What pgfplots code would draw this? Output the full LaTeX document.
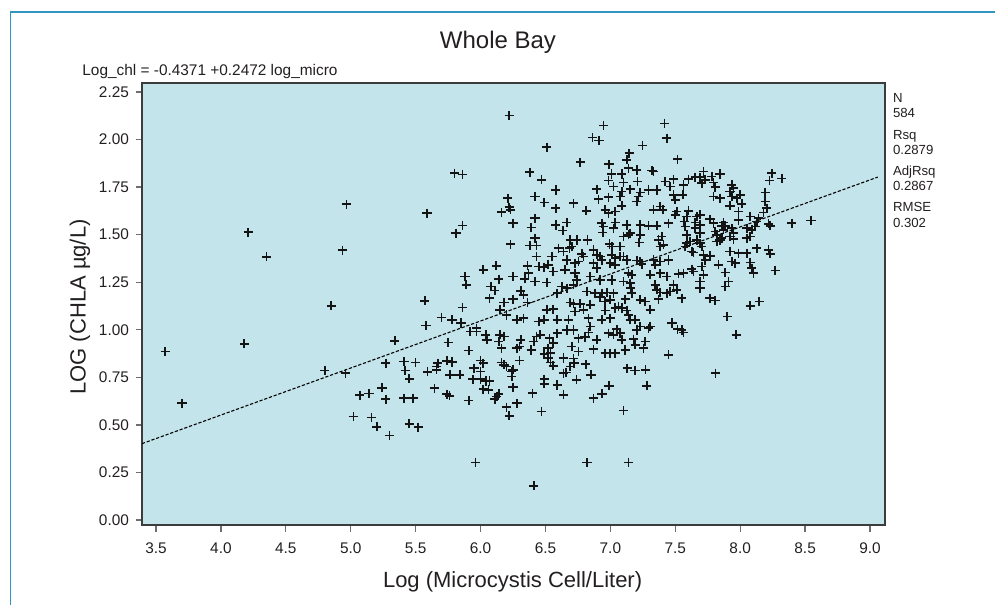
\documentclass[border=0pt]{standalone}
\usepackage{pgfplots}
\pgfplotsset{compat=1.18}
\usepackage{fontspec}
\setmainfont{Liberation Sans}
\definecolor{bgblue}{RGB}{196,228,236}
\definecolor{framecol}{RGB}{46,150,192}
\definecolor{axisgray}{RGB}{60,60,60}
\definecolor{tickgray}{RGB}{110,110,110}
\definecolor{txt}{RGB}{35,31,32}
\definecolor{markcol}{RGB}{20,20,20}
\pgfplotstableread{
x y
3.57 0.885
3.70 0.614
4.18 0.926
4.21 1.513
4.35 1.383
4.80 0.786
4.85 1.126
4.935 1.418
4.966 1.660
4.96 0.772
5.02 0.544
5.07 0.656
5.14 0.665
5.16 0.539
5.20 0.490
5.24 0.695
5.27 0.824
5.27 0.635
5.30 0.444
5.34 0.942
5.41 0.833
5.42 0.786
5.41 0.640
5.45 0.742
5.45 0.506
5.48 0.640
5.50 0.828
5.52 0.488
5.57 1.152
5.58 1.022
5.588 1.613
5.59 0.779
6.22 2.126
6.51 1.959
5.80 1.823
5.86 1.817
6.38 1.828
6.47 1.788
5.81 1.507
5.86 1.548
6.21 1.691
6.16 1.618
6.23 1.630
6.22 1.644
6.25 1.560
6.42 1.700
6.49 1.668
6.58 1.735
6.58 1.639
6.42 1.586
6.39 1.537
6.58 1.551
6.23 1.450
6.38 1.443
6.43 1.443
6.42 1.481
6.43 1.385
6.12 1.336
6.02 1.315
5.88 1.280
5.89 1.236
6.08 1.227
6.11 1.206
6.07 1.166
6.14 1.266
6.25 1.280
6.34 1.268
6.36 1.336
6.37 1.297
6.45 1.332
6.49 1.329
6.42 1.254
6.51 1.248
6.31 1.205
6.33 1.184
6.36 1.143
6.18 1.143
6.25 1.161
6.15 1.105
6.20 1.078
6.28 1.052
6.33 1.061
5.97 1.008
5.86 1.117
5.70 1.064
5.78 1.052
5.85 1.035
6.56 1.306
6.59 1.192
6.51 1.105
6.56 1.108
6.45 1.043
6.49 1.052
6.59 1.052
6.60 1.429
6.55 1.385
6.52 1.341
5.96 0.302
6.41 0.180
6.47 0.570
6.22 0.548
6.20 0.593
6.28 0.614
5.91 0.628
6.125 0.649
6.11 0.635
6.14 0.663
5.74 0.661
5.76 0.653
5.645 0.693
6.25 0.698
6.40 0.667
6.02 0.688
6.06 0.684
6.07 0.731
6.04 0.731
6.00 0.740
5.94 0.740
6.49 0.740
6.49 0.716
6.59 0.710
5.84 0.763
5.765 0.763
5.66 0.789
5.66 0.807
5.67 0.824
5.74 0.837
5.78 0.830
5.95 0.798
6.00 0.780
6.00 0.838
6.02 0.824
6.18 0.816
6.20 0.807
6.16 0.828
6.24 0.780
6.25 0.789
6.24 0.754
6.30 0.838
6.49 0.872
6.52 0.850
6.54 0.828
6.56 0.810
5.75 0.933
5.91 0.891
5.92 0.991
5.97 0.991
6.04 0.973
6.05 0.947
6.15 0.973
6.14 0.938
6.18 0.964
6.28 0.903
6.30 0.912
6.31 0.947
6.39 0.894
6.41 0.938
6.43 0.964
6.52 0.903
6.54 0.877
6.46 0.973
6.53 0.956
6.56 0.929
6.59 0.982
6.16 0.903
6.82 0.302
7.14 0.302
7.10 0.576
6.64 0.658
6.87 0.640
6.935 0.663
6.99 0.705
7.28 0.705
6.74 0.737
6.85 0.763
6.64 0.772
6.66 0.775
6.72 0.824
6.69 0.807
6.81 0.819
7.13 0.798
7.19 0.786
7.27 0.790
7.81 0.772
6.947 2.073
7.417 2.085
6.862 2.010
6.913 1.994
7.435 2.007
7.247 1.968
7.145 1.928
7.127 1.893
7.140 1.849
6.767 1.881
6.990 1.870
7.517 1.896
7.010 1.819
7.088 1.819
7.204 1.840
7.320 1.837
7.332 1.832
6.985 1.784
7.025 1.753
7.101 1.774
7.209 1.779
6.895 1.739
6.908 1.686
6.985 1.697
7.088 1.726
7.152 1.739
7.230 1.721
7.294 1.735
7.358 1.735
7.075 1.700
7.217 1.700
7.204 1.674
7.422 1.779
7.487 1.791
7.461 1.753
7.487 1.709
7.499 1.683
6.715 1.665
6.813 1.625
6.960 1.630
6.985 1.613
7.037 1.621
7.088 1.651
7.332 1.630
7.384 1.648
7.404 1.630
7.499 1.604
7.512 1.621
6.664 1.564
6.633 1.521
6.934 1.560
6.947 1.543
6.942 1.511
7.037 1.564
7.127 1.551
7.024 1.534
7.230 1.551
7.294 1.546
7.358 1.546
7.448 1.560
7.101 1.490
7.140 1.499
7.152 1.508
7.230 1.499
7.222 1.458
7.371 1.472
7.384 1.437
7.409 1.446
7.396 1.490
6.690 1.472
6.741 1.472
6.823 1.472
6.703 1.437
6.685 1.429
6.993 1.451
7.011 1.437
7.075 1.437
6.638 1.411
6.780 1.399
6.792 1.385
6.870 1.420
6.895 1.394
6.921 1.385
6.934 1.367
7.011 1.394
7.037 1.376
7.075 1.385
7.101 1.385
7.127 1.367
7.204 1.364
7.230 1.358
7.332 1.367
7.384 1.358
7.448 1.367
6.664 1.367
6.728 1.350
6.754 1.358
6.651 1.315
6.728 1.297
6.870 1.350
6.895 1.323
6.998 1.350
7.037 1.341
7.242 1.346
7.345 1.341
7.306 1.289
7.384 1.297
7.435 1.280
7.140 1.297
7.165 1.289
7.525 1.294
6.741 1.262
6.844 1.280
6.921 1.262
7.011 1.262
7.101 1.253
7.152 1.245
7.157 1.218
7.345 1.236
7.358 1.210
7.384 1.196
7.461 1.201
7.487 1.236
7.512 1.210
6.625 1.227
6.664 1.218
6.715 1.236
6.818 1.201
6.882 1.192
6.934 1.192
6.972 1.196
7.024 1.192
7.165 1.192
7.230 1.157
7.268 1.148
7.371 1.161
7.435 1.192
6.690 1.143
6.715 1.136
6.767 1.136
6.844 1.131
6.921 1.171
6.960 1.148
6.998 1.157
7.114 1.161
7.088 1.114
7.127 1.101
6.960 1.101
7.037 1.114
7.062 1.122
6.792 1.105
6.728 1.096
7.140 1.078
7.152 1.052
7.191 1.052
7.306 1.105
6.677 1.052
6.831 1.061
6.934 1.052
6.998 1.061
7.474 1.035
7.517 1.003
7.294 1.008
7.306 1.017
6.844 1.017
6.831 0.986
6.664 0.999
6.715 0.999
7.050 1.003
7.075 0.982
7.204 0.999
7.230 1.017
6.754 0.956
6.805 0.961
6.895 0.947
6.985 0.982
7.024 0.973
7.088 0.947
7.178 0.950
7.191 0.921
7.268 0.938
7.255 0.903
6.703 0.912
6.754 0.886
6.870 0.898
6.960 0.877
6.998 0.877
7.037 0.877
7.114 0.894
7.448 0.868
6.638 0.851
6.715 0.849
7.717 1.831
7.691 1.802
7.730 1.788
7.704 1.770
7.601 1.791
7.653 1.802
7.781 1.805
7.845 1.819
7.794 1.774
7.807 1.749
7.563 1.761
7.558 1.709
7.935 1.761
7.948 1.744
7.922 1.726
7.974 1.691
8.000 1.709
7.935 1.700
7.922 1.651
7.794 1.700
7.845 1.691
8.013 1.662
7.987 1.621
8.244 1.823
8.226 1.784
8.321 1.796
8.193 1.721
8.193 1.674
8.205 1.639
8.180 1.616
7.601 1.625
7.588 1.595
7.568 1.569
7.665 1.595
7.691 1.604
7.653 1.564
7.691 1.551
7.768 1.581
7.794 1.560
7.858 1.546
7.871 1.564
7.884 1.546
7.576 1.543
7.588 1.499
7.691 1.508
7.653 1.534
7.807 1.516
7.871 1.525
7.935 1.534
7.948 1.508
8.077 1.595
8.141 1.586
8.116 1.543
8.128 1.569
7.987 1.577
8.051 1.534
8.090 1.525
8.218 1.557
8.231 1.546
8.398 1.560
7.820 1.499
7.858 1.481
7.922 1.490
7.948 1.476
8.051 1.481
8.077 1.490
7.614 1.464
7.665 1.472
7.691 1.455
7.704 1.437
7.576 1.437
7.588 1.455
7.627 1.411
7.640 1.406
7.820 1.464
7.845 1.472
7.922 1.411
8.128 1.429
8.218 1.420
8.231 1.399
7.987 1.402
8.051 1.402
7.717 1.394
7.768 1.388
7.730 1.367
7.935 1.358
7.961 1.350
7.833 1.341
7.884 1.301
8.077 1.354
8.090 1.324
8.103 1.297
8.270 1.311
7.563 1.297
7.627 1.318
7.640 1.306
7.704 1.332
7.717 1.289
7.691 1.254
7.691 1.218
7.909 1.254
7.884 1.227
7.550 1.166
7.768 1.166
7.807 1.154
8.077 1.126
8.146 1.148
7.900 1.070
7.969 0.973
7.550 0.999
7.563 0.986
8.545 1.574
}\pointdata
\begin{document}
\begin{tikzpicture}
\useasboundingbox (0,0) rectangle (497.5pt,302.5pt);
\draw[framecol, line width=0.7pt] (5.15pt,0pt) -- (5.15pt,296.5pt) -- (497.5pt,296.5pt);
\begin{axis}[
  at={(71pt,40pt)}, anchor=south west,
  width=371.5pt, height=221pt, scale only axis,
  xmin=3.392, xmax=9.1155, ymin=-0.0263, ymax=2.297,
  xtick={3.5,4,4.5,5,5.5,6,6.5,7,7.5,8,8.5,9},
  xticklabels={3.5,4.0,4.5,5.0,5.5,6.0,6.5,7.0,7.5,8.0,8.5,9.0},
  ytick={0,0.25,0.5,0.75,1,1.25,1.5,1.75,2,2.25},
  yticklabels={0.00,0.25,0.50,0.75,1.00,1.25,1.50,1.75,2.00,2.25},
  xtick pos=bottom, ytick pos=left,
  tick align=outside, major tick length=3pt,
  tick style={tickgray, line width=0.65pt},
  x tick style={yshift=-0.6pt},
  axis line style={draw=axisgray, line width=0.6pt},
  axis background/.style={fill=bgblue},
  tick label style={font=\fontsize{7.7}{9}\selectfont, text=txt},
  xticklabel style={yshift=-2.5pt},
  clip=true,
]
\addplot[only marks, mark=+, mark size=2.3pt, mark options={line width=0.8pt, draw=markcol}] table[x=x, y=y] {\pointdata};
\addplot[black, line width=0.55pt, dash pattern=on 1.6pt off 0.9pt] coordinates {(3.392,0.4014) (9.06,1.8025)};
\end{axis}
\node[anchor=base, text=txt, font=\fontsize{12}{14}\selectfont] at (249pt,278pt) {Whole Bay};
\node[anchor=base west, inner sep=0pt, text=txt, font=\fontsize{7.7}{9}\selectfont] at (41pt,264.7pt) {Log\_chl = -0.4371 +0.2472 log\_micro};
\begin{scope}[every node/.style={anchor=base west, inner sep=0pt, text=txt, font=\fontsize{6.6}{8}\selectfont}]
\node at (446.3pt,251.35pt) {N};
\node at (446.3pt,243.85pt) {584};
\node at (446.3pt,232.85pt) {Rsq};
\node at (446.3pt,225pt) {0.2879};
\node at (446.3pt,214.5pt) {AdjRsq};
\node at (446.3pt,207pt) {0.2867};
\node at (446.3pt,196.65pt) {RMSE};
\node at (446.3pt,188.85pt) {0.302};
\end{scope}
\node[anchor=base, text=txt, font=\fontsize{11}{13}\selectfont] at (256.3pt,9pt) {Log (Microcystis Cell/Liter)};
\node[anchor=center, rotate=90, text=txt, font=\fontsize{11}{13}\selectfont] at (40pt,149pt) {LOG (CHLA µg/L)};
\end{tikzpicture}
\end{document}
